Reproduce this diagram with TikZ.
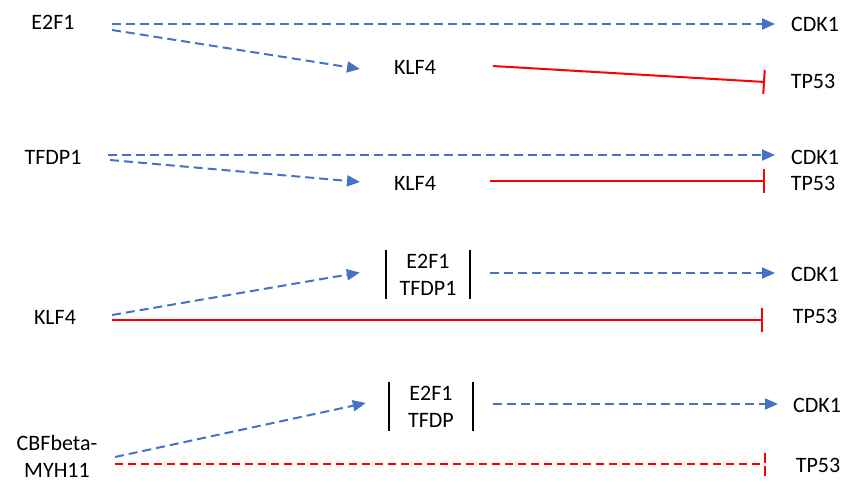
\documentclass[tikz,border=0pt]{standalone}
\usepackage{fontspec}
\setmainfont{Carlito}
\usepackage{tikz}
\usetikzlibrary{arrows.meta,calc}
\definecolor{actblue}{HTML}{4472C4}

\begin{document}
\begin{tikzpicture}[x=1pt,y=-1pt,
		gene/.style={inner sep=0pt, font=\fontsize{22}{27}\selectfont, align=center},
		cplx/.style={gene, minimum width=84pt, minimum height=49pt},
		act/.style={actblue, line width=2pt, dash pattern=on 9pt off 5pt, -{Triangle[length=13pt,width=11pt]}},
		inh/.style={red, line width=2pt, -{Bar[width=24pt]}},
		inhdash/.style={red, line width=2pt, dash pattern=on 8pt off 5pt},
		wall/.style={line width=2pt}]
		\useasboundingbox (0,0) rectangle (844,483);
		
		%% E2F1
		\node[gene] (e2f1) at (53,22) {E2F1};
		\node[gene] (klf4a) at (415,67) {KLF4};
		\node[gene] (cdk1a) at (815,24) {CDK1};
		\node[gene] (tp53a) at (813,81) {TP53};
		\draw[act] ($(e2f1)+(59,2)$) -- ($(cdk1a)+(-40,0)$);
		\draw[act] ($(e2f1)+(59,8)$) -- ($(klf4a)+(-55,2)$);
		\draw[inh] ($(klf4a)+(78,-1)$) -- ($(tp53a)+(-48,1)$);
		
		%% TFDP1
		\node[gene] (tfdp1) at (53,157) {TFDP1};
		\node[gene] (klf4b) at (415,183) {KLF4};
		\node[gene] (cdk1b) at (815,157) {CDK1};
		\node[gene] (tp53b) at (813,183) {TP53};
		\draw[act] ($(tfdp1)+(55,-2)$) -- ($(cdk1b)+(-40,-2)$);
		\draw[act] ($(tfdp1)+(57,3)$) -- ($(klf4b)+(-55,-1)$);
		\draw[inh] ($(klf4b)+(75,-2)$) -- ($(tp53b)+(-48,-2)$);
		
		%% KLF4
		\node[gene] (klf4c) at (55,317) {KLF4};
		\node[cplx] (cplxc) at (428,274.5) {E2F1\\TFDP1};
		\node[gene] (cdk1c) at (815,274) {CDK1};
		\node[gene] (tp53c) at (815,316) {TP53};
		\draw[wall] (cplxc.north west) -- (cplxc.south west);
		\draw[wall] (cplxc.north east) -- (cplxc.south east);
		\draw[act] ($(klf4c)+(57,-2)$) -- ($(cplxc.west)+(-26,-2)$);
		\draw[act] ($(cplxc.east)+(20,-1.5)$) -- ($(cdk1c)+(-40,-1)$);
		\draw[inh] ($(klf4c)+(57,3)$) -- ($(tp53c)+(-52,4)$);
		
		% CBFbeta-MYH11
		\node[gene] (cbf) at (57,456) {CBFbeta-\\MYH11};
		\node[cplx] (cplxd) at (431,406.5) {E2F1\\TFDP};
		\node[gene] (cdk1d) at (817,405) {CDK1};
		\node[gene] (tp53d) at (818,465) {TP53};
		\draw[wall] (cplxd.north west) -- (cplxd.south west);
		\draw[wall] (cplxd.north east) -- (cplxd.south east);
		\draw[act] ($(cbf)+(58,1)$) -- ($(cplxd.west)+(-23,-3.5)$);
		\draw[act] ($(cplxd.east)+(20,-2.5)$) -- ($(cdk1d)+(-39,-1)$);
		\draw[inhdash] ($(cbf)+(58,8)$) -- ($(tp53d)+(-53,-1)$);
		\draw[inhdash, dash pattern=on 10pt off 3pt] ($(tp53d)+(-53,-12)$) -- ($(tp53d)+(-53,11)$);
	\end{tikzpicture}
\end{document}
